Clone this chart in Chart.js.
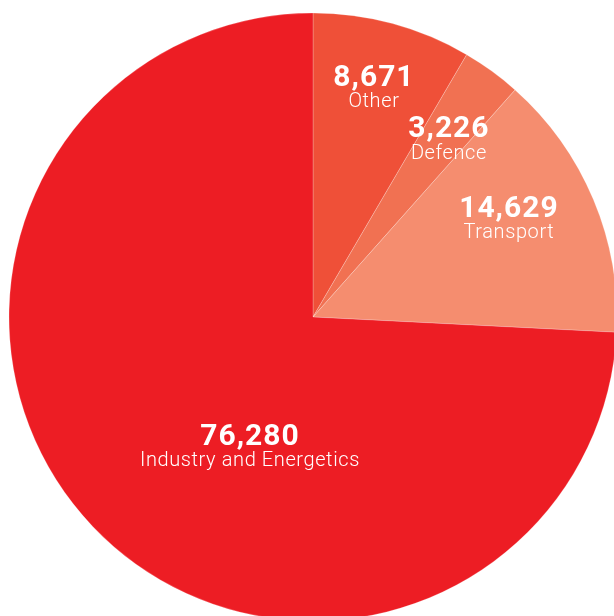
<!DOCTYPE html>
<html>
<head>
<meta charset="utf-8">
<script src="https://cdn.jsdelivr.net/npm/chart.js@4"></script>
<style>
  html, body { margin: 0; padding: 0; background: #ffffff; overflow: hidden; width: 614px; height: 616px; }
  #wrap { position: absolute; left: 3px; top: 7px; width: 620px; height: 620px; }
</style>
</head>
<body>
<div id="wrap"><canvas id="pie" width="620" height="620"></canvas></div>
<script>
// Slices, clockwise from 12 o'clock
const categories = ['Other', 'Defence', 'Transport', 'Industry and Energetics'];
const values = [8671, 3226, 14629, 76280];
const valueLabels = ['8,671', '3,226', '14,629', '76,280'];
const colors = ['#EF5038', '#F17152', '#F58D6F', '#ED1D24'];

// Label anchor per slice: angle shift from the slice's mid-angle (degrees)
// and distance from the centre as a share of the radius
const labelShift = [-0.4, 1.1, -4.4, -20.2];
const labelRadius = [0.786, 0.741, 0.724, 0.469];
const nameSize = [20, 20, 20, 20];

const sliceLabels = {
  id: 'sliceLabels',
  afterDatasetsDraw(chart) {
    const ctx = chart.ctx;
    const arcs = chart.getDatasetMeta(0).data;
    ctx.save();
    ctx.fillStyle = '#ffffff';
    ctx.textAlign = 'center';
    ctx.textBaseline = 'alphabetic';
    arcs.forEach((arc, i) => {
      const p = arc.getProps(['x', 'y', 'startAngle', 'endAngle', 'outerRadius'], true);
      const a = (p.startAngle + p.endAngle) / 2 + labelShift[i] * Math.PI / 180;
      const r = p.outerRadius * labelRadius[i];
      const x = p.x + Math.cos(a) * r;
      const y = p.y + Math.sin(a) * r;
      ctx.font = '700 30px Roboto';
      ctx.letterSpacing = '1px';
      ctx.fillText(valueLabels[i], x, y);
      ctx.font = '300 ' + nameSize[i] + 'px Roboto';
      ctx.letterSpacing = '0.6px';
      ctx.fillText(categories[i], x, y + 21.5);
    });
    ctx.restore();
  }
};

new Chart(document.getElementById('pie'), {
  type: 'pie',
  data: {
    labels: categories,
    datasets: [{
      data: values,
      backgroundColor: colors,
      borderColor: 'rgba(255,255,255,0.22)',
      borderWidth: 1
    }]
  },
  options: {
    responsive: false,
    animation: false,
    radius: 304,
    layout: { padding: 0 },
    plugins: {
      legend: { display: false },
      tooltip: { enabled: false }
    }
  },
  plugins: [sliceLabels]
});
</script>
</body>
</html>
